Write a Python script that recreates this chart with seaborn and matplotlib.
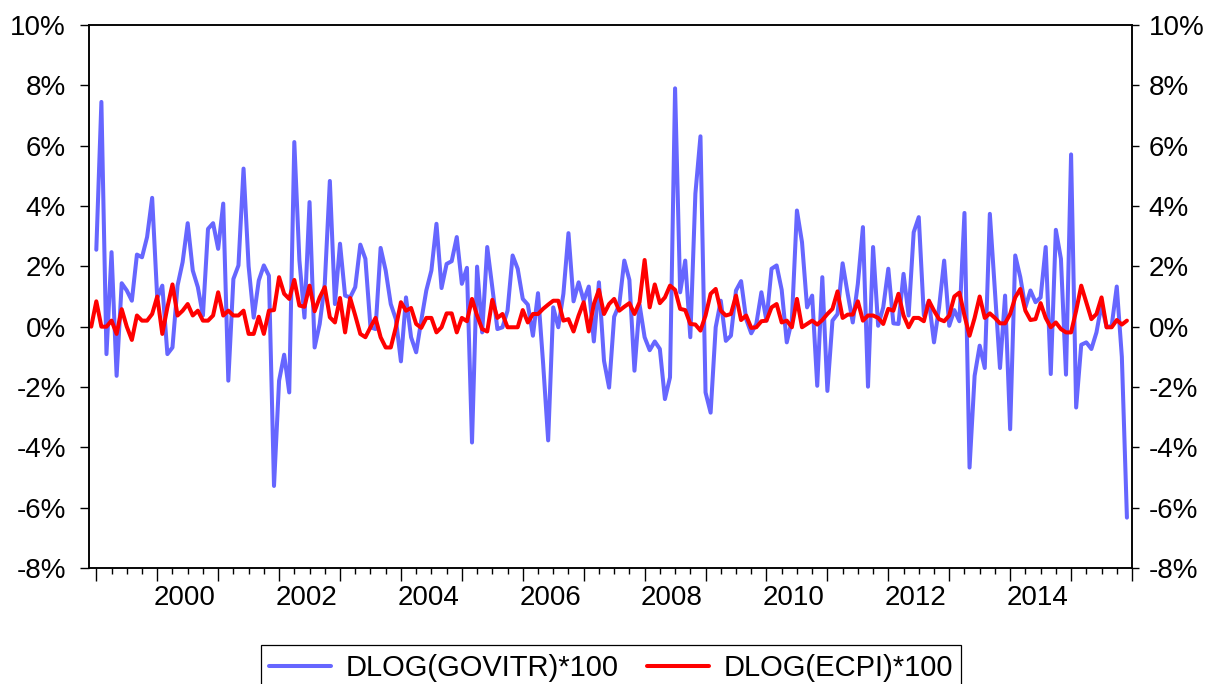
import numpy as np
import pandas as pd
import matplotlib
matplotlib.use("Agg")
import matplotlib.pyplot as plt
import matplotlib.transforms as mtransforms
from matplotlib.ticker import MultipleLocator, FuncFormatter, FixedLocator
import seaborn as sns

# Monthly observations, 1998M12 .. 2015M12
dates = pd.date_range("1998-12-01", "2015-12-01", freq="MS")

govitr = [np.nan,
    2.55, 7.45, -0.91, 2.47, -1.63, 1.44, 1.2, 0.86, 2.39, 2.3, 2.97, 4.27,
    0.95, 1.36, -0.91, -0.69, 1.36, 2.14, 3.43, 1.86, 1.31, 0.37, 3.24, 3.43,
    2.58, 4.08, -1.79, 1.58, 2.03, 5.24, 2.0, 0.3, 1.53, 2.03, 1.69, -5.28,
    -1.79, -0.93, -2.18, 6.12, 2.2, 0.3, 4.13, -0.69, 0.09, 1.42, 4.83, 0.75,
    2.75, 1.03, 0.97, 1.31, 2.72, 2.25, -0.02, -0.08, 2.61, 1.86, 0.75, 0.25,
    -1.15, 0.97, -0.35, -0.85, 0.2, 1.2, 1.86, 3.41, 1.28, 2.08, 2.17, 2.97,
    1.42, 1.95, -3.84, 1.99, -0.19, 2.64, 1.3, -0.08, -0.02, 0.53, 2.36, 1.92,
    0.92, 0.73, -0.3, 1.11, -1.2, -3.77, 0.64, -0.02, 1.09, 3.1, 0.84, 1.47,
    0.86, 1.33, -0.49, 1.47, -1.13, -2.02, 0.33, 0.73, 2.19, 1.55, -1.46, 0.73,
    -0.35, -0.78, -0.49, -0.74, -2.4, -1.68, 7.9, 1.14, 2.19, -0.35, 4.41, 6.31,
    -2.18, -2.85, -0.02, 0.86, -0.47, -0.3, 1.2, 1.51, 0.25, -0.22, 0.09, 1.14,
    0.2, 1.92, 2.03, 1.22, -0.52, 0.2, 3.85, 2.8, 0.64, 1.03, -1.96, 1.64,
    -2.13, 0.2, 0.42, 2.1, 1.09, 0.14, 1.42, 3.3, -1.99, 2.64, 0.03, 0.64,
    1.92, 0.11, 0.09, 1.75, 0.37, 3.13, 3.63, 0.37, 0.86, -0.52, 0.64, 2.19,
    0.03, 0.55, 0.18, 3.77, -4.67, -1.63, -0.63, -1.37, 3.74, 1.2, -1.37, 1.03,
    -3.4, 2.36, 1.64, 0.64, 1.2, 0.81, 0.97, 2.64, -1.57, 3.21, 2.25, -1.59,
    5.71, -2.68, -0.6, -0.52, -0.74, -0.19, 0.73, -0.02, 0.03, 1.33, -1.0, -6.33]

ecpi = [0.0,
    0.84, 0.0, 0.0, 0.2, -0.24, 0.58, 0.0, -0.44, 0.37, 0.2, 0.2, 0.42,
    1.0, -0.24, 0.64, 1.4, 0.37, 0.53, 0.75, 0.37, 0.53, 0.2, 0.2, 0.37,
    1.14, 0.37, 0.53, 0.37, 0.37, 0.53, -0.24, -0.24, 0.33, -0.24, 0.53, 0.55,
    1.64, 1.09, 0.92, 1.55, 0.7, 0.66, 1.36, 0.51, 0.97, 1.31, 0.31, 0.14,
    0.95, -0.19, 0.95, 0.37, -0.24, -0.35, -0.02, 0.29, -0.35, -0.69, -0.69, -0.02,
    0.81, 0.53, 0.62, 0.09, -0.04, 0.29, 0.29, -0.19, -0.02, 0.44, 0.44, -0.19,
    0.29, 0.18, 0.92, 0.37, -0.08, -0.16, 0.89, 0.29, 0.42, -0.02, -0.02, -0.02,
    0.55, 0.14, 0.42, 0.42, 0.59, 0.73, 0.86, 0.86, 0.2, 0.25, -0.16, 0.37,
    0.81, -0.16, 0.75, 1.22, 0.42, 0.75, 0.92, 0.53, 0.66, 0.78, 0.42, 0.81,
    2.21, 0.64, 1.4, 0.78, 0.97, 1.36, 1.22, 0.59, 0.55, 0.09, 0.07, -0.13,
    0.37, 1.09, 1.25, 0.53, 0.37, 0.42, 1.03, 0.22, 0.37, -0.04, -0.02, 0.18,
    0.2, 0.64, 0.75, 0.14, 0.2, -0.02, 0.92, -0.02, 0.09, 0.2, 0.07, 0.22,
    0.42, 0.59, 1.17, 0.29, 0.4, 0.4, 0.84, 0.2, 0.37, 0.37, 0.29, 0.09,
    0.59, 0.53, 1.09, 0.37, -0.02, 0.29, 0.29, 0.18, 0.86, 0.53, 0.25, 0.18,
    0.37, 1.0, 1.13, 0.37, -0.3, 0.29, 1.0, 0.29, 0.44, 0.29, 0.11, 0.11,
    0.42, 0.97, 1.25, 0.53, 0.22, 0.25, 0.78, 0.29, -0.02, 0.14, -0.08, -0.19,
    -0.19, 0.53, 1.36, 0.81, 0.25, 0.42, 0.97, -0.02, -0.02, 0.22, 0.07, 0.2]

series_names = ["DLOG(GOVITR)*100", "DLOG(ECPI)*100"]
series_colors = ["#6666FF", "#FF0000"]
year_labels = [str(y) for y in range(2000, 2015, 2)]
y_ticks = list(range(-8, 11, 2))

t = dates.year + (dates.month - 1) / 12.0
df = pd.DataFrame({"t": t, series_names[0]: govitr, series_names[1]: ecpi})
long = df.melt("t", var_name="series", value_name="v").dropna()

sns.set_theme(style="white")
plt.rcParams["font.family"] = ["Liberation Sans", "DejaVu Sans"]
plt.rcParams["text.color"] = "black"

fig = plt.figure(figsize=(12.16, 6.84), dpi=100)
ax = fig.add_axes([89 / 1216, 1 - 568 / 684, (1132 - 89) / 1216, (568 - 25) / 684])

sns.lineplot(data=long, x="t", y="v", hue="series", hue_order=series_names,
             palette=dict(zip(series_names, series_colors)), linewidth=2.9,
             ax=ax, legend=False, estimator=None, sort=True)

ax.set_xlim(1998.88, 2016.0)
ax.set_ylim(-8, 10)
ax.set_xlabel("")
ax.set_ylabel("")

fmt = FuncFormatter(lambda v, p: f"{int(round(v))}%")
ax.yaxis.set_major_locator(FixedLocator(y_ticks))
ax.yaxis.set_major_formatter(fmt)
ax.tick_params(axis="y", which="major", left=True, direction="out", length=6.5,
               width=1.0, pad=10, labelsize=20, colors="black")

ax2 = ax.twinx()
ax2.set_ylim(-8, 10)
ax2.yaxis.set_major_locator(FixedLocator(y_ticks))
ax2.yaxis.set_major_formatter(fmt)
ax2.tick_params(axis="y", which="major", right=True, direction="out", length=5,
                width=1.0, pad=7, labelsize=20, colors="black")
ax2.grid(False)

ax.xaxis.set_major_locator(MultipleLocator(1))
ax.xaxis.set_minor_locator(MultipleLocator(0.25))
ax.tick_params(axis="x", which="major", bottom=True, direction="out", length=9.4,
               width=1.0, labelbottom=False, colors="black")
ax.tick_params(axis="x", which="minor", bottom=True, direction="out", length=4.3,
               width=1.0, colors="black")
ax.grid(False)

for a in (ax, ax2):
    for s in a.spines.values():
        s.set_color("black")
        s.set_linewidth(1.1)

trans = mtransforms.blended_transform_factory(ax.transData, ax.transAxes)
for lab in year_labels:
    ax.text(int(lab) + 0.45, -0.055, lab, transform=trans, ha="center", va="center",
            fontsize=20, color="black")

handles = ax.get_lines()[:2]
leg = fig.legend(handles, series_names, loc="upper center",
                 bbox_to_anchor=(611 / 1216, 1 - 645 / 684), ncol=2, fontsize=21,
                 frameon=True, fancybox=False, edgecolor="black", framealpha=1,
                 handlelength=2.1, handletextpad=0.5, columnspacing=1.0,
                 borderpad=0.3, borderaxespad=0.0, labelcolor="black")
leg.get_frame().set_linewidth(0.9)

fig.savefig("out.png", dpi=100)
